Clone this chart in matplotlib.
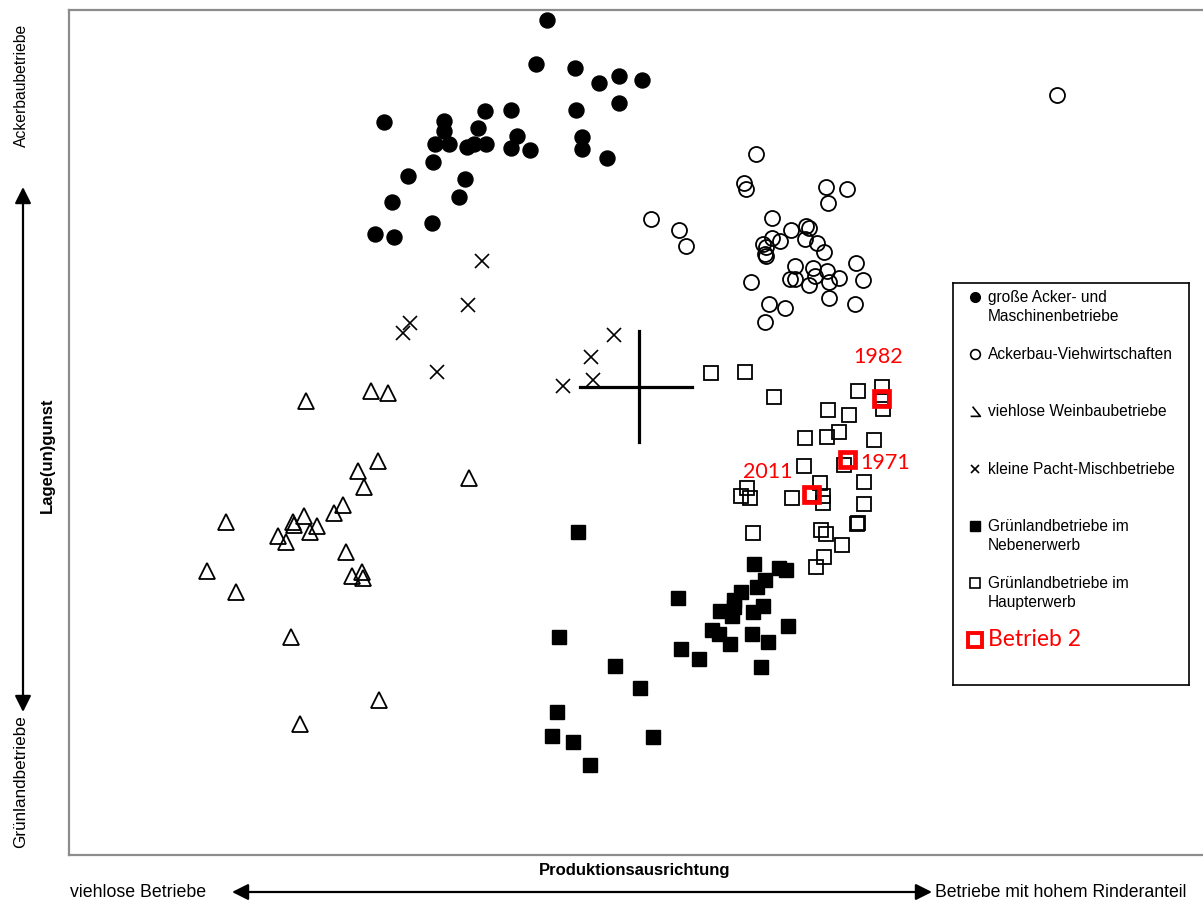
import matplotlib
matplotlib.use("Agg")
import matplotlib.pyplot as plt
from matplotlib.patches import FancyArrowPatch

# scores (x: Produktionsausrichtung, y: Lage(un)gunst, y grows downwards)
gross_x = [547, 536, 575, 599, 619, 642, 619, 576, 485, 511, 384, 444, 444, 478, 435, 449, 467,
           474, 486, 517, 511, 530, 582, 582, 607, 433, 408, 465, 459, 392, 432, 375, 394]
gross_y = [21, 65, 69, 84, 77, 81, 104, 111, 112, 111, 123, 122, 132, 129, 145, 145, 148,
           145, 145, 137, 149, 151, 138, 150, 159, 163, 177, 180, 198, 203, 224, 235, 238]

vieh_x = [756, 744, 746, 826, 847, 828, 651, 679, 686, 772, 791, 806, 809, 772, 780, 763, 766,
          765, 766, 805, 817, 824, 795, 813, 827, 856, 790, 795, 809, 815, 829, 839, 863, 751,
          829, 769, 785, 855, 765, 1057]
vieh_y = [155, 184, 190, 188, 190, 204, 220, 231, 247, 219, 231, 227, 229, 239, 242, 245, 248,
          255, 257, 240, 244, 253, 267, 269, 272, 264, 280, 280, 286, 277, 283, 279, 281, 283,
          299, 305, 309, 305, 323, 96]

wein_x = [306, 371, 388, 378, 358, 469, 364, 343, 334, 226, 304, 293, 294, 317, 310, 278, 286,
          346, 207, 352, 362, 363, 236, 291, 379, 300]
wein_y = [402, 392, 394, 462, 472, 479, 488, 506, 514, 523, 517, 523, 526, 527, 533, 537, 543,
          553, 572, 577, 573, 579, 593, 638, 701, 725]

pacht_x = [482, 468, 410, 403, 437, 591, 614, 563, 593]
pacht_y = [262, 306, 324, 334, 373, 358, 336, 387, 381]

neben_x = [578, 754, 779, 786, 765, 757, 741, 734, 734, 720, 732, 763, 753, 678, 788, 712, 719,
           730, 752, 768, 681, 699, 761, 559, 615, 640, 557, 552, 573, 653, 590]
neben_y = [533, 565, 569, 571, 581, 588, 593, 601, 608, 612, 617, 607, 613, 599, 627, 631, 635,
           645, 635, 643, 650, 660, 668, 638, 667, 689, 713, 737, 743, 738, 766]

haupt_x = [711, 745, 774, 858, 882, 881, 883, 828, 849, 805, 827, 839, 874, 844, 804, 820, 864,
           811, 792, 823, 823, 864, 747, 741, 750, 753, 857, 858, 821, 826, 842, 824, 816]
haupt_y = [374, 373, 398, 392, 388, 399, 410, 411, 416, 439, 438, 433, 441, 466, 467, 484, 483,
           495, 499, 497, 504, 505, 489, 497, 499, 534, 525, 524, 531, 535, 546, 558, 568]

betrieb_years = ["1971", "1982", "2011"]
betrieb_x = [846.5, 881, 811]
betrieb_y = [459.5, 399, 495]

centre_x = 639
centre_y = 387.5

legend_labels = ["große Acker- und\nMaschinenbetriebe", "Ackerbau-Viehwirtschaften",
                 "viehlose Weinbaubetriebe", "kleine Pacht-Mischbetriebe",
                 "Grünlandbetriebe im\nNebenerwerb", "Grünlandbetriebe im\nHaupterwerb"]

RED = "#ff0000"
SANS = ["Liberation Sans", "DejaVu Sans"]
plt.rcParams["font.family"] = SANS

W, H = 1203, 904
fig = plt.figure(figsize=(W / 100, H / 100), dpi=100)

# main plot, data units equal the picture grid
x0, x1, ytop, ybot = 69, 1215, 11, 856
ax = fig.add_axes([x0 / W, (H - ybot) / H, (x1 - x0) / W, (ybot - ytop) / H])
ax.set_xlim(x0, x1)
ax.set_ylim(ybot, ytop)
ax.set_xticks([])
ax.set_yticks([])
for s in ["left", "top", "bottom"]:
    ax.spines[s].set_color("#8c8c8c")
    ax.spines[s].set_linewidth(1.6)
ax.spines["right"].set_visible(False)

ms = 10.8
ax.plot(gross_x, gross_y, "o", ms=ms, color="black", mec="black")
ax.plot(vieh_x, vieh_y, "o", ms=ms, mfc="none", mec="black", mew=1.3)
ax.plot(wein_x, wein_y, "^", ms=11, mfc="none", mec="black", mew=1.3)
ax.plot(pacht_x, pacht_y, "x", ms=10, color="black", mew=1.2)
ax.plot(neben_x, neben_y, "s", ms=9.8, color="black", mec="black")
ax.plot(haupt_x, haupt_y, "s", ms=9.5, mfc="none", mec="black", mew=1.3)
ax.plot(betrieb_x, betrieb_y, "s", ms=10.8, mfc="none", mec=RED, mew=3.4, zorder=5)

# centre cross
ax.plot([centre_x - 59, centre_x + 53], [centre_y, centre_y], color="black", lw=2.3)
ax.plot([centre_x, centre_x], [centre_y - 56, centre_y + 55], color="black", lw=2.3)

lab = dict(color=RED, fontsize=15.5, family=["Lato", "DejaVu Sans"])
ax.text(betrieb_x[0] + 14, betrieb_y[0] + 4, betrieb_years[0], ha="left", va="center", **lab)
ax.text(betrieb_x[1] - 3, betrieb_y[1] - 42, betrieb_years[1], ha="center", va="center", **lab)
ax.text(betrieb_x[2] - 18, betrieb_y[2] - 23, betrieb_years[2], ha="right", va="center", **lab)

# legend box
lx0, lx1, ly0, ly1 = 953, 1189, 284, 686
lg = fig.add_axes([lx0 / W, (H - ly1) / H, (lx1 - lx0) / W, (ly1 - ly0) / H])
lg.set_xlim(lx0, lx1)
lg.set_ylim(ly1, ly0)
lg.set_xticks([])
lg.set_yticks([])
for s in lg.spines.values():
    s.set_linewidth(1.2)
    s.set_color("black")

half_tri = [(-0.3, 0.5), (0.5, -0.5), (-0.5, -0.5)]
rows = [298, 355, 412, 470, 527, 584]
mk = [dict(marker="o", ms=7, color="black"),
      dict(marker="o", ms=7, mfc="none", mec="black", mew=1.2),
      dict(marker=half_tri, ms=7, mfc="none", mec="black", mew=1.2),
      dict(marker="x", ms=6, color="black", mew=1.2),
      dict(marker="s", ms=6.5, color="black"),
      dict(marker="s", ms=6.5, mfc="none", mec="black", mew=1.2)]
for y, m, t in zip(rows, mk, legend_labels):
    lg.plot([975], [y], ls="none", **m)
    if "\n" in t:
        lg.text(988, y - 8, t, ha="left", va="top", fontsize=11.2, linespacing=1.32)
    else:
        lg.text(988, y, t, ha="left", va="center", fontsize=11.2)
lg.plot([975], [641], "s", ms=10.5, mfc="none", mec=RED, mew=2.8)
lg.text(988, 640, "Betrieb 2", ha="left", va="center", color=RED, fontsize=16.5,
        family=["Lato", "DejaVu Sans"])

# outer axis descriptions and arrows
ov = fig.add_axes([0, 0, 1, 1])
ov.set_xlim(0, W)
ov.set_ylim(H, 0)
ov.axis("off")
ov.text(635, 871, "Produktionsausrichtung", ha="center", va="center", fontsize=12, weight="bold")
ov.text(70, 893, "viehlose Betriebe", ha="left", va="center", fontsize=12.8)
ov.text(935, 893, "Betriebe mit hohem Rinderanteil", ha="left", va="center", fontsize=12.7)
ov.text(47, 455, "Lage(un)gunst", ha="center", va="center", rotation=90, fontsize=12, weight="bold")
ov.text(21, 85, "Ackerbaubetriebe", ha="center", va="center", rotation=90, fontsize=11.3)
ov.text(21, 782, "Grünlandbetriebe", ha="center", va="center", rotation=90, fontsize=12.3)

arr = dict(arrowstyle="<|-|>,head_length=0.7,head_width=0.35", color="black", lw=1.6,
           mutation_scale=14, shrinkA=0, shrinkB=0)
ov.add_patch(FancyArrowPatch((232, 893), (932, 893), **arr))
ov.add_patch(FancyArrowPatch((23, 188), (23, 713), **arr))

fig.savefig("out.png", dpi=100)
